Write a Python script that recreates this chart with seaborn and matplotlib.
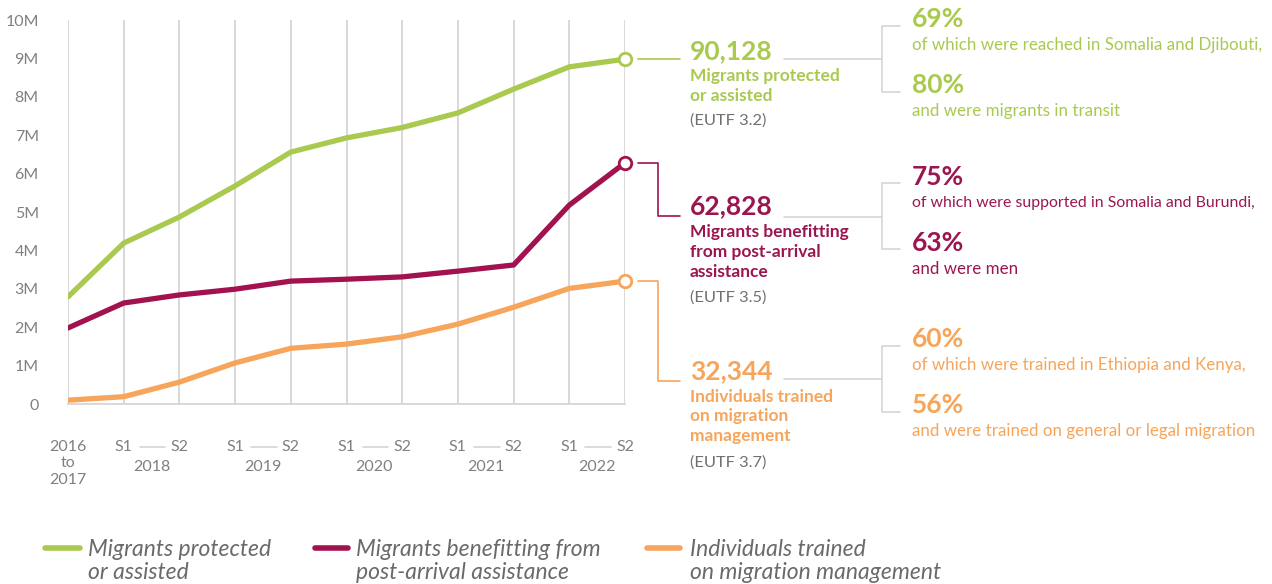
import matplotlib
matplotlib.use('Agg')
import matplotlib.pyplot as plt
from matplotlib.lines import Line2D
from matplotlib.transforms import Affine2D, blended_transform_factory
import pandas as pd
import seaborn as sns

# periods on the x axis
x_labels = ['2016\nto\n2017', 'S1', 'S2', 'S1', 'S2', 'S1', 'S2', 'S1', 'S2', 'S1', 'S2']
years = ['2018', '2019', '2020', '2021', '2022']
y_labels = ['0', '1M', '2M', '3M', '4M', '5M', '6M', '7M', '8M', '9M', '10M']

# cumulative values (millions)
protected = [2.79, 4.19, 4.87, 5.68, 6.56, 6.93, 7.2, 7.58, 8.2, 8.78, 8.98]
post_arrival = [1.98, 2.63, 2.84, 2.99, 3.2, 3.25, 3.31, 3.46, 3.62, 5.18, 6.28]
trained = [0.1, 0.19, 0.57, 1.07, 1.45, 1.56, 1.75, 2.08, 2.52, 3.01, 3.2]

series = ['Migrants protected\nor assisted',
          'Migrants benefitting from\npost-arrival assistance',
          'Individuals trained\non migration management']
colors = ['#A9C94F', '#A1124E', '#F6A55B']
text_colors = ['#A9C94F', '#9B1650', '#F6A55B']

totals = ['90,128', '62,828', '32,344']
subtitles = ['Migrants protected\nor assisted',
             'Migrants benefitting\nfrom post-arrival\nassistance',
             'Individuals trained\non migration\nmanagement']
codes = ['(EUTF 3.2)', '(EUTF 3.5)', '(EUTF 3.7)']
pct_first = ['69%', '75%', '60%']
desc_first = ['of which were reached in Somalia and Djibouti,',
              'of which were supported in Somalia and Burundi,',
              'of which were trained in Ethiopia and Kenya,']
pct_second = ['80%', '63%', '56%']
desc_second = ['and were migrants in transit',
               'and were men',
               'and were trained on general or legal migration']

df = pd.DataFrame({
    'x': list(range(11)) * 3,
    'value': protected + post_arrival + trained,
    'series': [series[0]] * 11 + [series[1]] * 11 + [series[2]] * 11,
})

sns.set_style('white')
plt.rcParams['font.family'] = ['Lato', 'DejaVu Sans']

W, H = 1272, 584
fig = plt.figure(figsize=(W / 100, H / 100), dpi=100)
ax = fig.add_axes([68 / W, 1 - 404 / H, (625 - 68) / W, (404 - 20) / H])

sns.lineplot(data=df, x='x', y='value', hue='series', palette=colors,
             linewidth=3.8, legend=False, ax=ax, solid_capstyle='round', zorder=3)

ends = [protected[-1], post_arrival[-1], trained[-1]]
for v, c in zip(ends, colors):
    ax.plot([10], [v], marker='o', ms=9, mfc='white', mec=c, mew=2,
            clip_on=False, zorder=4)

ax.set_xlim(0, 10)
ax.set_ylim(0, 10)
ax.set_xticks(range(11))
ax.set_xticklabels(x_labels)
ax.set_yticks(range(11))
ax.set_yticklabels(y_labels)
ax.set_xlabel('')
ax.set_ylabel('')
ax.tick_params(axis='both', length=0, labelsize=11.5, labelcolor='#808080')
ax.tick_params(axis='y', pad=21)
ax.tick_params(axis='x', pad=26)
ax.grid(axis='x', color='#d6d6d6', lw=1.3)
ax.grid(axis='y', visible=False)
for side in ['left', 'right', 'top']:
    ax.spines[side].set_visible(False)
ax.spines['bottom'].set_color('#d6d6d6')
ax.spines['bottom'].set_linewidth(1.3)

# year labels and dashes under S1/S2 pairs
bt = blended_transform_factory(ax.transData, ax.transAxes)
for i, yr in enumerate(years):
    x0 = 1 + 2 * i
    ax.text(x0 + 0.5, -0.163, yr, transform=bt, ha='center', va='center',
            fontsize=11.5, color='#808080', clip_on=False)
    ax.add_line(Line2D([x0 + 0.29, x0 + 0.75], [-0.112, -0.112], transform=bt,
                       color='#d6d6d6', lw=1.2, clip_on=False))

# annotations on the right, in pixel coordinates from the top-left
pix = Affine2D().scale(1, -1).translate(0, H)


def px_y(v):
    return H - ax.transData.transform((10, v))[1]


def seg(xs, ys, color):
    fig.add_artist(Line2D(xs, ys, transform=pix, color=color, lw=1.2))


num_y = [51, 206, 371]
sub_y = [86, 252, 416.5]
code_y = [121, 298, 463]
pct_y = [[19, 45, 85, 111], [177, 203, 243, 269], [339, 365, 405, 431]]
bracket = [(26, 59, 92), (183, 217, 249), (346, 379, 412)]
desc_size = [12.2, 11.4, 12.2]

for i in range(3):
    c = text_colors[i]
    y_end = px_y(ends[i])
    if i == 0:
        seg([638, 680], [y_end, y_end], colors[i])
    else:
        seg([638, 658, 658, 680], [y_end, y_end, num_y[i] + 10, num_y[i] + 10], colors[i])
    fig.text(690, num_y[i], totals[i], transform=pix, ha='left', va='center',
             fontsize=19, fontweight='bold', color=c)
    fig.text(690, sub_y[i], subtitles[i], transform=pix, ha='left', va='center',
             fontsize=12.5, fontweight='bold', color=c, linespacing=1.3)
    fig.text(690, code_y[i], codes[i], transform=pix, ha='left', va='center',
             fontsize=11.8, color='#707070')
    top, mid, bot = bracket[i]
    seg([784, 882], [mid, mid], '#d6d6d6')
    seg([900, 882, 882, 900], [top, top, bot, bot], '#d6d6d6')
    p = pct_y[i]
    fig.text(912, p[0], pct_first[i], transform=pix, ha='left', va='center',
             fontsize=19, fontweight='bold', color=c)
    fig.text(912, p[1], desc_first[i], transform=pix, ha='left', va='center',
             fontsize=desc_size[i], color=c)
    fig.text(912, p[2], pct_second[i], transform=pix, ha='left', va='center',
             fontsize=19, fontweight='bold', color=c)
    fig.text(912, p[3], desc_second[i], transform=pix, ha='left', va='center',
             fontsize=12.2, color=c)

# legend
leg_x = [(45, 80, 88), (315, 348, 356), (647, 680, 690)]
for (x0, x1, tx), lab, c in zip(leg_x, series, colors):
    fig.add_artist(Line2D([x0, x1], [548, 548], transform=pix, color=c, lw=4,
                          solid_capstyle='round'))
    fig.text(tx, 561, lab, transform=pix, ha='left', va='center', fontsize=16.5,
             style='italic', color='#6a6a6a', linespacing=1.1)

fig.savefig('out.png', dpi=100)
